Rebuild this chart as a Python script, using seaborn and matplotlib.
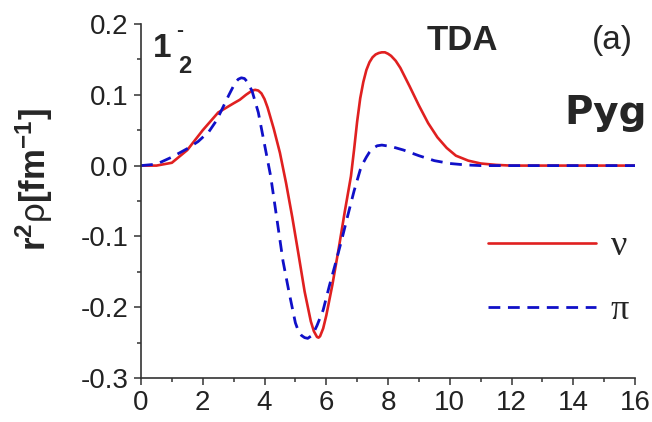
import numpy as np
import pandas as pd
import matplotlib
matplotlib.use("Agg")
import matplotlib.pyplot as plt
import seaborn as sns

# ---- data ----
r_nu = [0.0, 0.5, 1.0, 1.5, 2.0, 2.5, 3.0, 3.2, 3.4, 3.6, 3.7, 3.8, 3.9, 4.0,
        4.1, 4.3, 4.5, 4.7, 4.9, 5.1, 5.3, 5.5, 5.6, 5.7, 5.75, 5.8, 5.9, 6.0,
        6.2, 6.4, 6.6, 6.8, 6.9, 7.0, 7.1, 7.2, 7.3, 7.4, 7.5, 7.6, 7.7, 7.8,
        7.9, 8.0, 8.1, 8.25, 8.4, 8.7, 9.0, 9.3, 9.6, 9.9, 10.2, 10.6, 11.0,
        11.5, 12.0, 14.0, 16.0]
rho_nu = [0.0, 0.0, 0.004, 0.022, 0.050, 0.075, 0.088, 0.093, 0.100, 0.106,
          0.107, 0.106, 0.102, 0.094, 0.082, 0.052, 0.018, -0.025, -0.073,
          -0.125, -0.178, -0.220, -0.234, -0.242, -0.243, -0.241, -0.230,
          -0.212, -0.168, -0.118, -0.065, -0.015, 0.022, 0.062, 0.095, 0.118,
          0.135, 0.146, 0.153, 0.157, 0.159, 0.160, 0.160, 0.158, 0.155, 0.148,
          0.138, 0.112, 0.085, 0.060, 0.040, 0.025, 0.014, 0.007, 0.003, 0.001,
          0.0, 0.0, 0.0]

r_pi = [0.0, 0.5, 1.0, 1.5, 1.85, 2.2, 2.45, 2.65, 2.85, 3.05, 3.15, 3.25, 3.35,
        3.45, 3.6, 3.8, 4.0, 4.2, 4.4, 4.6, 4.8, 5.0, 5.1, 5.2, 5.3, 5.4, 5.5,
        5.6, 5.7, 5.9, 6.1, 6.3, 6.5, 6.7, 6.9, 7.1, 7.2, 7.3, 7.4, 7.5, 7.65,
        7.8, 7.95, 8.1, 8.5, 9.0, 9.5, 10.0, 10.5, 11.0, 12.0, 14.0, 16.0]
rho_pi = [0.0, 0.002, 0.012, 0.024, 0.034, 0.048, 0.064, 0.082, 0.100, 0.117,
          0.122, 0.124, 0.123, 0.118, 0.105, 0.075, 0.030, -0.015, -0.075,
          -0.135, -0.180, -0.222, -0.234, -0.240, -0.243, -0.244, -0.241,
          -0.235, -0.226, -0.204, -0.170, -0.138, -0.105, -0.070, -0.036,
          -0.006, 0.004, 0.012, 0.019, 0.024, 0.028, 0.029, 0.028, 0.027,
          0.022, 0.014, 0.007, 0.003, 0.001, 0.0, 0.0, 0.0, 0.0]

series_labels = ["\u03bd", "\u03c0"]
x_ticks = [0, 2, 4, 6, 8, 10, 12, 14, 16]
y_ticks = [-0.3, -0.2, -0.1, 0.0, 0.1, 0.2]

sns.set_style("ticks")
plt.rcParams["font.family"] = ["Liberation Sans", "DejaVu Sans"]
plt.rcParams["mathtext.fontset"] = "custom"
plt.rcParams["mathtext.rm"] = "Liberation Sans"
plt.rcParams["mathtext.bf"] = "Liberation Sans:bold"
plt.rcParams["mathtext.it"] = "Liberation Sans:italic"
plt.rcParams["lines.scale_dashes"] = False

W, H = 652, 422
fig = plt.figure(figsize=(W / 100, H / 100), dpi=100)
ax = fig.add_axes([141 / W, 1 - 378 / H, (635 - 141) / W, (378 - 24) / H])

df_nu = pd.DataFrame({"r": r_nu, "rho": rho_nu})
df_pi = pd.DataFrame({"r": r_pi, "rho": rho_pi})

sns.lineplot(data=df_nu, x="r", y="rho", ax=ax, color="#e02020", lw=1.9,
             label=series_labels[0], sort=True)
sns.lineplot(data=df_pi, x="r", y="rho", ax=ax, color="#1010c8", lw=2.0,
             label=series_labels[1], sort=True)
for ln in ax.lines:
    ln.set_solid_joinstyle("round")
    ln.set_dash_joinstyle("round")
ax.lines[1].set_dashes((8.5, 5.5))

ax.set_xlim(0, 16)
ax.set_ylim(-0.3, 0.2)
ax.set_xticks(x_ticks)
ax.set_yticks(y_ticks)
ax.set_xticklabels([str(t) for t in x_ticks])
ax.set_yticklabels([f"{t:.1f}" for t in y_ticks])
ax.set_xticks(np.arange(1, 16, 2), minor=True)
ax.set_yticks(np.arange(-0.25, 0.2, 0.1), minor=True)
ax.tick_params(axis="both", which="major", direction="out", length=5, width=1.1,
               labelsize=20, color="#333333", labelcolor="#222222")
ax.tick_params(axis="both", which="minor", direction="out", length=3, width=1.1,
               color="#333333")
ax.tick_params(axis="x", pad=4)
ax.tick_params(axis="y", pad=4)
ax.set_xlabel("")
ax.set_ylabel("")
for s in ["top", "right"]:
    ax.spines[s].set_visible(False)
for s in ["left", "bottom"]:
    ax.spines[s].set_linewidth(1.2)
    ax.spines[s].set_color("#333333")

leg = ax.legend(loc="upper left", bbox_to_anchor=(488 / W, 1 - 230 / H),
                bbox_transform=fig.transFigure, frameon=False,
                prop={"family": "Liberation Serif", "size": 26},
                handlelength=3.0, handletextpad=0.4, labelspacing=0.85,
                borderpad=0, borderaxespad=0)

fig.text(34 / W, 1 - 180 / H, r"$\mathbf{r^{2}}\mathrm{\rho}\mathbf{[fm^{-1}]}$",
         rotation=90, ha="center", va="center", fontsize=25)
fig.text(153 / W, 1 - 57 / H, "1", ha="left", va="baseline", fontsize=24,
         fontweight="bold")
fig.text(176 / W, 1 - 36 / H, "-", ha="left", va="baseline", fontsize=15,
         fontweight="bold")
fig.text(178 / W, 1 - 73 / H, "2", ha="left", va="baseline", fontsize=17,
         fontweight="bold")
fig.text(462 / W, 1 - 40 / H, "TDA", ha="center", va="center", fontsize=25,
         fontweight="bold")
fig.text(612 / W, 1 - 41 / H, "(a)", ha="center", va="center", fontsize=24)
fig.text(564 / W, 1 - 124 / H, "Pyg", ha="left", va="baseline", fontsize=28,
         fontweight="bold", family="DejaVu Sans")

fig.savefig("out.png", dpi=100)
